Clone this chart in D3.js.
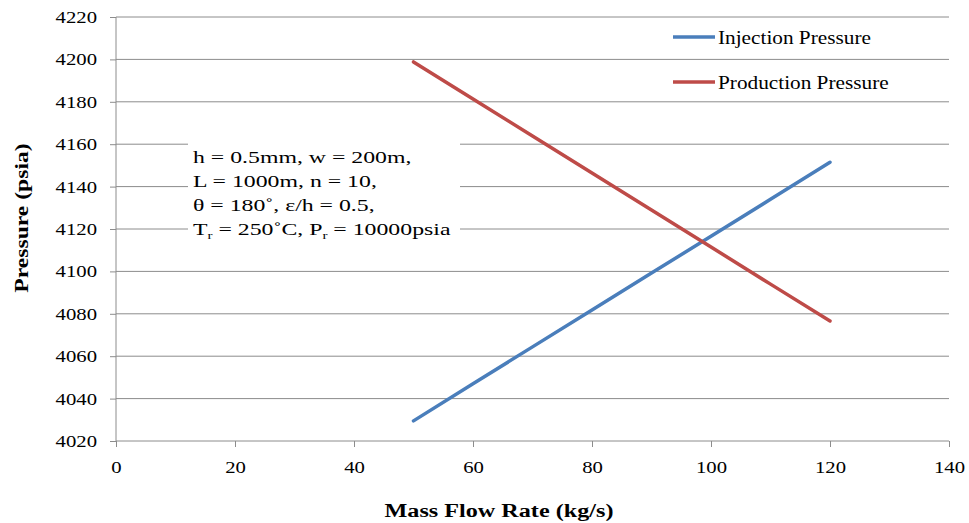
<!DOCTYPE html>
<html>
<head>
<meta charset="utf-8">
<script src="https://cdn.jsdelivr.net/npm/d3@7"></script>
<style>
  html, body { margin: 0; padding: 0; background: #fff; }
  svg { display: block; }
  svg text { font-family: "Liberation Serif", "Times New Roman", serif; fill: #000; }
</style>
</head>
<body>
<svg id="chart" width="969" height="523"></svg>
<script>
// Mass flow rate (kg/s)
const flowRates = [50, 60, 70, 80, 90, 100, 110, 120];
// Pressures (psia)
const injectionPressure = [4029.5, 4047.0, 4064.4, 4081.8, 4099.2, 4116.6, 4134.0, 4151.5];
const productionPressure = [4198.8, 4181.3, 4163.9, 4146.4, 4129.0, 4111.5, 4094.0, 4076.6];
const seriesNames = ["Injection Pressure", "Production Pressure"];
const seriesColors = ["#4a7ebb", "#be4b48"];
const xTicks = [0, 20, 40, 60, 80, 100, 120, 140];
const yTicks = [4020, 4040, 4060, 4080, 4100, 4120, 4140, 4160, 4180, 4200, 4220];

const svg = d3.select("#chart");
const plot = { left: 116, right: 949, top: 17, bottom: 441 };

const x = d3.scaleLinear().domain([0, 140]).range([plot.left, plot.right]);
const y = d3.scaleLinear().domain([4020, 4220]).range([plot.bottom, plot.top]);

// Widen text horizontally about its own anchor point (wide serif look)
function widen(sel, sx) {
  sel.each(function () {
    const t = d3.select(this);
    const ax = +t.attr("x") || 0, ay = +t.attr("y") || 0;
    t.attr("transform", `translate(${ax},${ay}) scale(${sx},1) translate(${-ax},${-ay})`);
  });
}

// horizontal gridlines
svg.append("g")
  .selectAll("line")
  .data(yTicks.filter(v => v !== 4020))
  .join("line")
  .attr("x1", plot.left).attr("x2", plot.right)
  .attr("y1", d => y(d)).attr("y2", d => y(d))
  .attr("stroke", "#8c8c8c").attr("stroke-width", 1);

// axes
const yAxis = svg.append("g")
  .attr("transform", `translate(${plot.left},0)`)
  .call(d3.axisLeft(y).tickValues(yTicks).tickSize(6).tickPadding(13).tickFormat(d3.format("d")));
const xAxis = svg.append("g")
  .attr("transform", `translate(0,${plot.bottom})`)
  .call(d3.axisBottom(x).tickValues(xTicks).tickSize(6).tickPadding(14).tickFormat(d3.format("d")));

[yAxis, xAxis].forEach(g => {
  g.attr("font-family", null).attr("font-size", null);
  g.selectAll("path, line").attr("stroke", "#8c8c8c").attr("stroke-width", 1);
  g.selectAll("text").attr("font-size", 17).attr("fill", "#000");
  widen(g.selectAll("text"), 1.22);
});
yAxis.select(".domain").attr("d", `M0,${plot.top}V${plot.bottom}`);
xAxis.select(".domain").attr("d", `M${plot.left},0H${plot.right}`);

// data lines
const series = [injectionPressure, productionPressure];
const line = d3.line().x((d, i) => x(flowRates[i])).y(d => y(d));
series.forEach((vals, k) => {
  svg.append("path")
    .datum(vals)
    .attr("d", line)
    .attr("fill", "none")
    .attr("stroke", seriesColors[k])
    .attr("stroke-width", 3.5)
    .attr("stroke-linecap", "round");
});

// parameter annotation box
const note = svg.append("g");
note.append("rect")
  .attr("x", 188).attr("y", 143).attr("width", 272).attr("height", 102)
  .attr("fill", "#fff");
const noteLines = [
  [["h = 0.5mm, w = 200m,", false]],
  [["L = 1000m, n = 10,", false]],
  [["θ = 180˚, ε/h = 0.5,", false]],
  [["T", false], ["r", true], [" = 250˚C, P", false], ["r", true], [" = 10000psia", false]]
];
noteLines.forEach((parts, i) => {
  const t = note.append("text")
    .attr("x", 193).attr("y", 163 + i * 24)
    .attr("font-size", 17.5)
    .attr("xml:space", "preserve");
  parts.forEach(([s, sub], j) => {
    const sp = t.append("tspan").text(s);
    if (sub) sp.attr("font-size", 11).attr("dy", 4);
    else if (j > 0) sp.attr("dy", -4);
  });
  widen(t, 1.36);
});

// legend
const legend = svg.append("g");
seriesNames.forEach((name, k) => {
  const ly = 37 + k * 45;
  legend.append("line")
    .attr("x1", 673).attr("x2", 715).attr("y1", ly).attr("y2", ly)
    .attr("stroke", seriesColors[k]).attr("stroke-width", 3.5);
  const t = legend.append("text")
    .attr("x", 718).attr("y", ly + 7.5)
    .attr("font-size", 18.5)
    .text(name);
  widen(t, 1.15);
});

// axis titles
svg.append("text")
  .attr("transform", `translate(28,218) rotate(-90) scale(1.27,1)`)
  .attr("text-anchor", "middle")
  .attr("font-size", 18.6).attr("font-weight", "bold")
  .text("Pressure (psia)");
const xt = svg.append("text")
  .attr("x", 499).attr("y", 517)
  .attr("text-anchor", "middle")
  .attr("font-size", 18.6).attr("font-weight", "bold")
  .text("Mass Flow Rate (kg/s)");
widen(xt, 1.3);
</script>
</body>
</html>
